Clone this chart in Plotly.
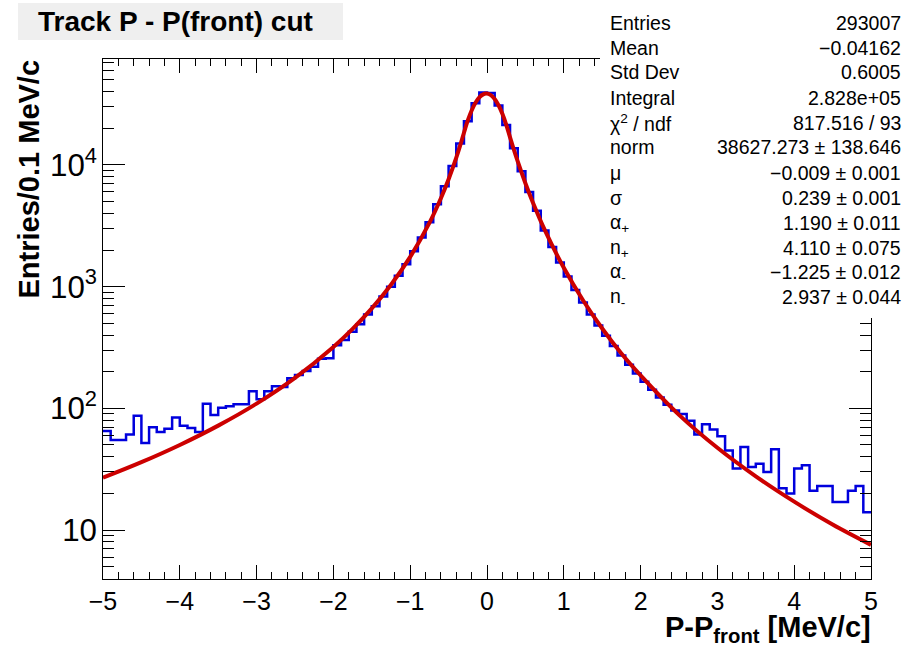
import numpy as np
import plotly.graph_objects as go

# ---------------- data ----------------
bin_edges = np.round(np.linspace(-5.0, 5.0, 101), 2)   # 100 bins of 0.1 MeV/c
counts = [65, 55, 55, 61, 87, 52, 70, 64, 68, 84,
          72, 69, 64, 109, 88, 101, 104, 108, 108, 138,
          119, 138, 152, 150, 177, 188, 203, 220, 255, 258,
          330, 365, 425, 490, 590, 690, 830, 1000, 1230, 1530,
          1950, 2530, 3380, 4750, 6700, 9800, 15000, 22900, 32200, 39400,
          39100, 30800, 21300, 13700, 8900, 6000, 4200, 2900, 2120, 1580,
          1210, 940, 740, 590, 480, 395, 325, 272, 228, 193,
          165, 142, 123, 107, 96, 90, 79, 61, 74, 67,
          59, 45, 32, 48, 33, 35, 30, 46, 22, 20,
          32, 34, 21, 23, 23, 17, 17, 21, 23, 14]

fit_x = [-5, -4.5, -4, -3.5, -3, -2.5, -2, -1.75, -1.5, -1.25, -1, -0.75, -0.6, -0.5,
         -0.4, -0.35, -0.3, -0.25, -0.2, -0.15, -0.1, -0.05, -0.009, 0.05, 0.1, 0.15,
         0.2, 0.25, 0.3, 0.35, 0.4, 0.5, 0.6, 0.75, 1, 1.25, 1.5, 1.75, 2, 2.5, 3,
         3.5, 4, 4.5, 5]
fit_y = [26.9, 36.1, 50.0, 72.1, 109.4, 178.1, 319.6, 450, 663, 1037, 1757, 3343, 5332, 7627,
         11471, 14400, 18406, 23230, 28067, 32457, 35926, 38064, 38627, 37468, 34811, 30960,
         26351, 21473, 16880, 13346, 10689, 7082, 4873, 2942, 1428, 773, 453, 282, 186.4, 88.4, 47.4,
         27.6, 17.1, 11.1, 7.55]

title_text = "Track P - P(front) cut"
x_title = "P-P<sub>front</sub> [MeV/c]"
y_title = "Entries/0.1 MeV/c"

stat_labels = ["Entries", "Mean", "Std Dev", "Integral", "χ<sup>2</sup> / ndf", "norm",
               "μ", "σ", "α<sub>+</sub>", "n<sub>+</sub>", "α<sub>-</sub>", "n<sub>-</sub>"]
stat_values = ["293007", "\u22120.04162", "0.6005", "2.828e+05", "817.516 / 93",
               "38627.273 ± 138.646", "\u22120.009 ± 0.001", "0.239 ± 0.001",
               "1.190 ± 0.011", "4.110 ± 0.075", "\u22121.225 ± 0.012", "2.937 ± 0.044"]

# ---------------- layout helpers ----------------
W, H = 906, 648
L, R, T, B = 103, 871, 59, 579


def px(xp):
    return (xp - L) / (R - L)


def py(yp):
    return (B - yp) / (B - T)


FONT = "Liberation Sans, Arial, Helvetica, sans-serif"

fig = go.Figure()

fig.add_trace(go.Scatter(
    x=bin_edges, y=list(counts) + [counts[-1]], mode="lines", line_shape="hv",
    line=dict(color="#0000dd", width=2.5), hoverinfo="skip", showlegend=False))

fig.add_trace(go.Scatter(
    x=fit_x, y=fit_y, mode="lines", line_shape="spline",
    line=dict(color="#cc0000", width=4), hoverinfo="skip", showlegend=False))

shapes = [
    dict(type="rect", xref="paper", yref="paper", x0=px(600), x1=px(906), y0=py(318), y1=py(-2),
         fillcolor="white", line=dict(width=0), layer="above"),
    dict(type="rect", xref="paper", yref="paper", x0=px(18), x1=px(343), y0=py(40), y1=py(3),
         fillcolor="#efefef", line=dict(width=0), layer="above"),
]

ann = [
    dict(text="<b>" + title_text + "</b>", x=px(36), y=py(21.5), xanchor="left", yanchor="middle",
         font=dict(size=28)),
    dict(text="<b>" + x_title + "</b>", x=px(873), y=py(648.5), xanchor="right", yanchor="bottom",
         font=dict(size=29)),
    dict(text="<b>" + y_title + "</b>", x=px(28), y=py(58), xanchor="center", yanchor="top",
         textangle=-90, font=dict(size=29)),
]
stat_y = [23.3, 48, 72, 98, 122.5, 147, 173, 197.5, 223, 248, 272, 297]
for lab, val, yy in zip(stat_labels, stat_values, stat_y):
    ann.append(dict(text=lab, x=px(608), y=py(yy), xanchor="left", yanchor="middle",
                    font=dict(size=19.5)))
    ann.append(dict(text=val, x=px(903), y=py(yy), xanchor="right", yanchor="middle",
                    font=dict(size=19.5)))
for a in ann:
    a.update(xref="paper", yref="paper", showarrow=False)

fig.update_layout(
    width=W, height=H,
    margin=dict(l=L, r=W - R, t=T, b=H - B, pad=0),
    paper_bgcolor="white", plot_bgcolor="white",
    font=dict(family=FONT, color="black"),
    shapes=shapes, annotations=ann,
    xaxis=dict(range=[-5, 5], dtick=1, tick0=0, ticks="inside", ticklen=14, tickwidth=1,
               tickcolor="black", showline=True, linecolor="black", linewidth=1, mirror="ticks",
               showgrid=False, zeroline=False, tickfont=dict(size=25), ticklabelstandoff=0,
               minor=dict(ticks="inside", ticklen=7, dtick=0.2, tick0=0, tickcolor="black",
                          showgrid=False)),
    yaxis=dict(type="log", range=[0.5974, 4.871], dtick=1, exponentformat="power",
               ticks="inside", ticklen=22, tickwidth=1, tickcolor="black",
               showline=True, linecolor="black", linewidth=1, mirror="ticks",
               showgrid=False, zeroline=False, tickfont=dict(size=25), ticklabelstandoff=0,
               minor=dict(ticks="inside", ticklen=11, dtick="D1", tickcolor="black",
                          showgrid=False)),
)

fig.write_html("out.html")
